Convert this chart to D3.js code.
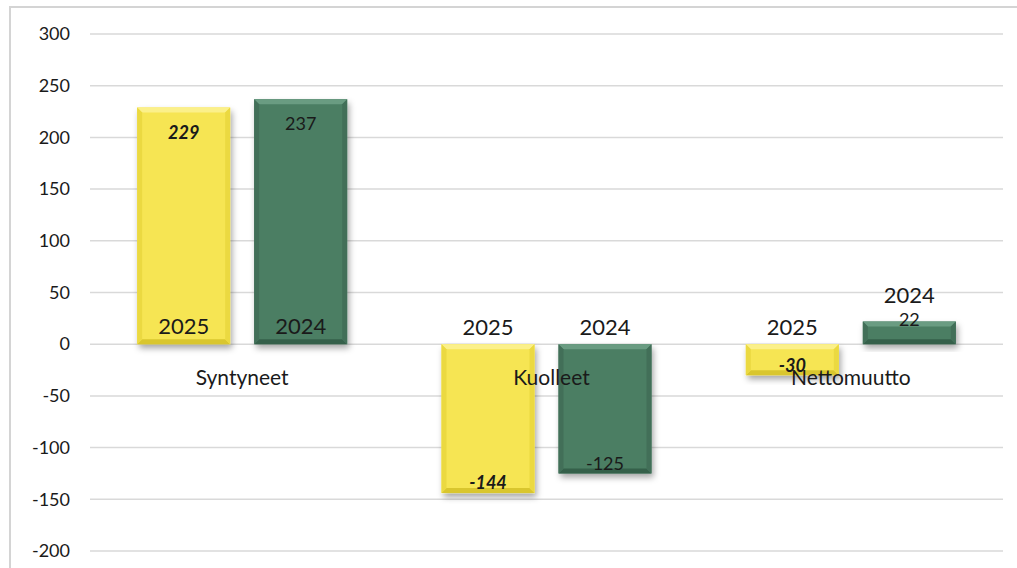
<!DOCTYPE html>
<html>
<head>
<meta charset="utf-8">
<script src="https://cdn.jsdelivr.net/npm/d3@7"></script>
<style>
  html, body { margin: 0; padding: 0; background: #fff; }
  svg { display: block; }
  text { font-family: Lato, "Open Sans", sans-serif; fill: #1a1a1a; }
</style>
</head>
<body>
<svg id="chart" width="1017" height="568"></svg>
<script>
const categories = ["Syntyneet", "Kuolleet", "Nettomuutto"];
const seriesNames = ["2025", "2024"];
const values2025 = [229, -144, -30];
const values2024 = [237, -125, 22];
const yTicks = [300, 250, 200, 150, 100, 50, 0, -50, -100, -150, -200];

const svg = d3.select("#chart");
const W = 1017, H = 568;
const plot = { left: 90, right: 1003, top: 34, bottom: 551 };

const colors = {
  "2025": { base: "#f6e552", light: "#fbf08a", dark: "#d9c62e", side: "#ebd941" },
  "2024": { base: "#4b7e64", light: "#6a9c82", dark: "#35604a", side: "#426f58" }
};

const defs = svg.append("defs");
const f = defs.append("filter").attr("id", "shadow")
  .attr("x", "-20%").attr("y", "-20%").attr("width", "150%").attr("height", "150%");
f.append("feDropShadow").attr("dx", 2).attr("dy", 4).attr("stdDeviation", 3)
  .attr("flood-color", "#000").attr("flood-opacity", 0.35);

// frame
svg.append("line").attr("x1", 10).attr("x2", 10).attr("y1", 7).attr("y2", H)
  .attr("stroke", "#d4d4d4").attr("stroke-width", 2);
svg.append("line").attr("x1", 9).attr("x2", W).attr("y1", 7).attr("y2", 7)
  .attr("stroke", "#d4d4d4").attr("stroke-width", 2);

const y = d3.scaleLinear().domain([-200, 300]).range([plot.bottom, plot.top]);
const x0 = d3.scaleBand().domain(categories).range([plot.left, plot.right]).padding(0);
const x1 = d3.scaleBand().domain(seriesNames).range([0, x0.bandwidth()])
  .paddingInner(0.205).paddingOuter(0.403);

// gridlines
svg.append("g").selectAll("line").data(yTicks).join("line")
  .attr("x1", plot.left).attr("x2", plot.right)
  .attr("y1", d => y(d)).attr("y2", d => y(d))
  .attr("stroke", "#d9d9d9").attr("stroke-width", 1.5);

// y axis labels
const yAxis = d3.axisLeft(y).tickValues(yTicks).tickSize(0).tickPadding(0)
  .tickFormat(d => String(d));
const ga = svg.append("g").attr("transform", "translate(70,0)").call(yAxis);
ga.select(".domain").remove();
ga.selectAll("text").attr("font-size", 18).attr("fill", "#3a3a3a")
  .style("font-family", "Lato, 'Open Sans', sans-serif");

// data rows
const rows = [];
categories.forEach((c, i) => {
  rows.push({ cat: c, s: "2025", v: values2025[i] });
  rows.push({ cat: c, s: "2024", v: values2024[i] });
});

const y0 = y(0);
const bw = x1.bandwidth();
const bev = 5;

const bars = svg.append("g").selectAll("g").data(rows).join("g")
  .attr("transform", d => `translate(${x0(d.cat) + x1(d.s)},0)`);

bars.each(function (d) {
  const g = d3.select(this);
  const c = colors[d.s];
  const top = Math.min(y(d.v), y0), bot = Math.max(y(d.v), y0);
  const h = bot - top;
  g.append("rect").attr("x", 0).attr("y", top).attr("width", bw).attr("height", h)
    .attr("fill", c.base).attr("filter", "url(#shadow)");
  g.append("polygon").attr("points", `0,${top} ${bw},${top} ${bw - bev},${top + bev} ${bev},${top + bev}`)
    .attr("fill", c.light);
  g.append("polygon").attr("points", `0,${bot} ${bw},${bot} ${bw - bev},${bot - bev} ${bev},${bot - bev}`)
    .attr("fill", c.dark);
  g.append("polygon").attr("points", `0,${top} ${bev},${top + bev} ${bev},${bot - bev} 0,${bot}`)
    .attr("fill", c.side);
  g.append("polygon").attr("points", `${bw},${top} ${bw - bev},${top + bev} ${bw - bev},${bot - bev} ${bw},${bot}`)
    .attr("fill", c.side);
});

// category labels
svg.append("g").selectAll("text").data(categories).join("text")
  .attr("x", (d, i) => x0(d) + x0.bandwidth() / 2 + [0, 5, 0][i])
  .attr("y", y0 + 33).attr("dy", "0.35em").attr("text-anchor", "middle")
  .attr("font-size", 21).text(d => d);

// series name labels
bars.append("text")
  .attr("x", bw / 2)
  .attr("y", d => {
    const h = Math.abs(y(d.v) - y0);
    if (d.v > 0) return h > 40 ? y0 - 18 : y(d.v) - 26;
    return y0 - 17;
  })
  .attr("dy", "0.35em").attr("text-anchor", "middle").attr("font-size", 22)
  .text(d => d.s);

// value labels
bars.append("text")
  .attr("x", bw / 2)
  .attr("y", d => {
    const h = Math.abs(y(d.v) - y0);
    if (d.v > 0) return h > 50 ? y(d.v) + 25 : y(d.v) - 2;
    return y(d.v) - 10;
  })
  .attr("dy", "0.35em").attr("text-anchor", "middle").attr("font-size", 18)
  .attr("font-weight", d => d.s === "2025" ? "bold" : "normal")
  .attr("font-style", d => d.s === "2025" ? "italic" : "normal")
  .text(d => d.v);
</script>
</body>
</html>
